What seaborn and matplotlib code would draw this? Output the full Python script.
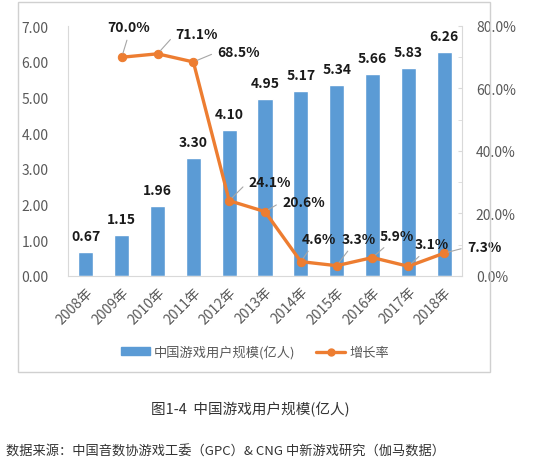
import matplotlib
matplotlib.use("Agg")
import matplotlib.pyplot as plt
from matplotlib.patches import Rectangle, Patch
from matplotlib.lines import Line2D
import numpy as np
import pandas as pd
import seaborn as sns

# ---- data ----
years = ["2008年", "2009年", "2010年", "2011年", "2012年", "2013年",
         "2014年", "2015年", "2016年", "2017年", "2018年"]
users = [0.67, 1.15, 1.96, 3.30, 4.10, 4.95, 5.17, 5.34, 5.66, 5.83, 6.26]
growth_years = ["2009年", "2010年", "2011年", "2012年", "2013年",
                "2014年", "2015年", "2016年", "2017年", "2018年"]
growth = [0.700, 0.711, 0.685, 0.241, 0.206, 0.046, 0.033, 0.059, 0.031, 0.073]
left_ticks = [0, 1, 2, 3, 4, 5, 6, 7]
right_ticks = [0.0, 0.2, 0.4, 0.6, 0.8]
bar_name = "中国游戏用户规模(亿人)"
line_name = "增长率"
caption = "图1-4  中国游戏用户规模(亿人)"
source = "数据来源：中国音数协游戏工委（GPC）& CNG 中新游戏研究（伽马数据）"

# ---- style ----
sns.set_style("white")
plt.rcParams["font.family"] = ["Noto Sans CJK SC", "DejaVu Sans"]
BLUE = "#5B9BD5"
ORANGE = "#ED7D31"
GRAY_TXT = "#595959"
AXIS = "#D9D9D9"

fig = plt.figure(figsize=(5.53, 4.60), dpi=100)
fig.patch.set_facecolor("white")

# outer chart box
fig.patches.append(Rectangle((18 / 553, 1 - 373 / 460), (490 - 18) / 553, (373 - 3) / 460,
                             transform=fig.transFigure, fill=False,
                             edgecolor="#D0D0D0", linewidth=1.0))

ax = fig.add_axes([68 / 553, 1 - 277 / 460, (462 - 68) / 553, (277 - 27) / 460])
df = pd.DataFrame({"year": years, "users": users})
sns.barplot(data=df, x="year", y="users", order=years, color=BLUE,
            saturation=1, width=0.42, ax=ax)
ax.set_xlim(-0.5, len(years) - 0.5)
ax.set_ylim(left_ticks[0], left_ticks[-1])
ax.set_yticks(left_ticks)
ax.set_yticklabels([f"{v:.2f}" for v in left_ticks], color=GRAY_TXT, fontsize=10)
ax.set_xlabel("")
ax.set_ylabel("")
ax.set_xticks(range(len(years)))
ax.set_xticklabels(years, rotation=45, ha="right", rotation_mode="anchor",
                   color=GRAY_TXT, fontsize=10)
ax.tick_params(axis="x", length=0, pad=6)
ax.tick_params(axis="y", length=0, pad=14)
for s in ["top", "right"]:
    ax.spines[s].set_visible(False)
ax.spines["left"].set_color(AXIS)
ax.spines["bottom"].set_color(AXIS)

for i, v in enumerate(users):
    ax.annotate(f"{v:.2f}", xy=(i, v), xytext=(0, 16), textcoords="offset pixels",
                ha="center", va="center", fontsize=10, fontweight="bold", color="#1a1a1a")

# line on twin axis
ax2 = ax.twinx()
gx = [years.index(y) for y in growth_years]
ldf = pd.DataFrame({"x": gx, "g": growth})
sns.lineplot(data=ldf, x="x", y="g", color=ORANGE, linewidth=2.4, marker="o",
             markersize=6, markeredgecolor=ORANGE, ax=ax2)
ax2.set_ylim(right_ticks[0], right_ticks[-1])
ax2.set_yticks(right_ticks)
ax2.set_yticklabels([f"{v*100:.1f}%" for v in right_ticks], color=GRAY_TXT, fontsize=10)
ax2.set_yticks(np.arange(0, 0.81, 0.1), minor=True)
ax2.tick_params(axis="y", which="both", direction="in", length=3, color=AXIS, pad=10)
ax2.set_xlabel("")
ax2.set_ylabel("")
for s in ["top", "left", "bottom"]:
    ax2.spines[s].set_visible(False)
ax2.spines["right"].set_color(AXIS)
ax2.set_xlim(-0.5, len(years) - 0.5)

# label offsets (pixels) and alignment for growth labels
offsets = [(7, 30, "center"), (18, 20, "left"), (24, 10, "left"), (19, 19, "left"),
           (17, 10, "left"), (1, 23, "left"), (5, 27, "left"), (7, 22, "left"),
           (6, 22, "left"), (23, 6, "left")]
for (x, v, (dx, dy, ha)) in zip(gx, growth, offsets):
    rel = (0.5, 0) if ha == "center" or dy > 20 else (0, 0.5)
    if ha == "left" and dy > 20:
        rel = (0.3, 0)
    ax2.annotate(f"{v*100:.1f}%", xy=(x, v), xytext=(dx, dy), textcoords="offset pixels",
                 ha=ha, va="center", fontsize=10, fontweight="bold", color="#1a1a1a",
                 arrowprops=dict(arrowstyle="-", color="#A6A6A6", lw=0.8,
                                 relpos=rel, shrinkA=2, shrinkB=3))

# legend
handles = [Patch(facecolor=BLUE, edgecolor=BLUE),
           Line2D([0], [0], color=ORANGE, lw=2.4, marker="o", markersize=5)]
fig.legend(handles, [bar_name, line_name], loc="center", ncol=2,
           bbox_to_anchor=(0.461, 1 - 353 / 460), frameon=False, fontsize=9.5,
           handlelength=2.2, handleheight=0.5, columnspacing=1.6, handletextpad=0.3,
           labelcolor=GRAY_TXT)

fig.text(250 / 553, 1 - 410 / 460, caption, ha="center", va="center",
         fontsize=10.5, color="#333333")
fig.text(6 / 553, 1 - 452 / 460, source, ha="left", va="center",
         fontsize=9.5, color="#333333")

fig.savefig("out.png", dpi=100, facecolor="white")
